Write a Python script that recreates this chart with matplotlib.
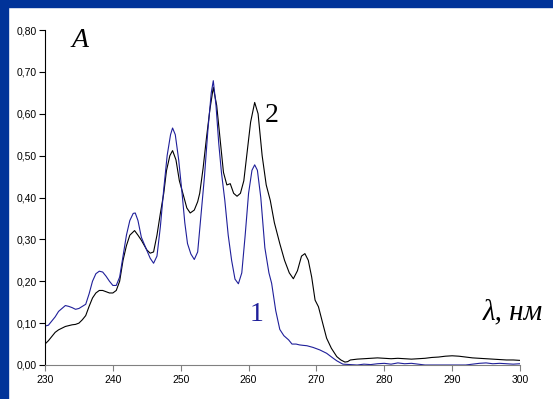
# Absorption spectra, curves 1 and 2
import matplotlib
matplotlib.use("Agg")
import matplotlib.pyplot as plt
from matplotlib.ticker import FuncFormatter, MultipleLocator
from matplotlib.patches import Rectangle

# curve 1 (blue)
wl1 = [230, 230.5, 231, 231.5, 232, 232.5, 233, 233.5, 234, 234.5, 235, 235.5,
       236, 236.5, 237, 237.5, 238, 238.5, 239, 239.5, 240, 240.5, 241, 241.5,
       242, 242.5, 243, 243.3, 243.7, 244.2, 245, 245.5, 246, 246.5, 247, 247.5,
       248, 248.5, 248.8, 249.2, 249.7, 250.2, 250.6, 251, 251.5, 252, 252.5,
       253, 253.5, 254, 254.5, 254.8, 255.2, 255.6, 256, 256.5, 257, 257.5,
       258, 258.5, 259, 259.5, 260, 260.5, 260.9, 261.3, 261.8, 262.4, 263,
       263.4, 264, 264.6, 265.2, 265.9, 266.4, 267, 267.5, 268, 268.6, 269.5,
       270.5, 271.5, 272.4, 273, 273.9, 275, 276, 277, 278, 279, 280, 281, 282,
       283, 284, 285, 286, 288, 290, 292, 293, 294, 295, 296, 297, 298, 299, 300]
abs1 = [0.093, 0.095, 0.105, 0.115, 0.128, 0.135, 0.142, 0.140, 0.137, 0.133,
        0.135, 0.140, 0.145, 0.170, 0.200, 0.218, 0.224, 0.222, 0.212, 0.200,
        0.190, 0.190, 0.210, 0.260, 0.310, 0.345, 0.362, 0.363, 0.345, 0.305,
        0.274, 0.255, 0.243, 0.260, 0.330, 0.420, 0.500, 0.550, 0.566, 0.550,
        0.490, 0.410, 0.340, 0.290, 0.265, 0.252, 0.270, 0.360, 0.450, 0.560,
        0.650, 0.679, 0.620, 0.530, 0.460, 0.393, 0.310, 0.250, 0.205, 0.194,
        0.220, 0.310, 0.410, 0.465, 0.478, 0.465, 0.400, 0.280, 0.220, 0.195,
        0.130, 0.085, 0.070, 0.060, 0.050, 0.050, 0.048, 0.047, 0.046, 0.042,
        0.036, 0.028, 0.017, 0.010, 0.002, 0.001, 0.000, 0.002, 0.001, 0.003,
        0.004, 0.002, 0.005, 0.003, 0.004, 0.002, 0.000, 0.000, 0.000, 0.000,
        0.002, 0.004, 0.005, 0.003, 0.004, 0.003, 0.002, 0.003]

# curve 2 (black)
wl2 = [230, 230.5, 231, 231.5, 232, 232.5, 233, 233.5, 234, 234.5, 235, 235.5,
       236, 236.5, 237, 237.5, 238, 238.5, 239, 239.5, 240, 240.5, 241, 241.5,
       242, 242.5, 243.2, 243.7, 244.2, 245, 245.5, 246, 246.5, 247, 247.5,
       247.9, 248.4, 248.8, 249.3, 249.8, 250.4, 250.9, 251.4, 252, 252.5,
       252.8, 253.3, 253.8, 254.3, 254.8, 255.3, 255.8, 256.3, 256.8, 257.3,
       257.8, 258.3, 258.8, 259.3, 259.8, 260.3, 260.9, 261.4, 262, 262.6,
       263.2, 263.8, 264.6, 265.3, 266, 266.6, 267.2, 267.8, 268.3, 268.8,
       269.3, 269.8, 270.3, 271, 271.5, 272.2, 273, 273.6, 274.2, 274.6, 275,
       276, 277, 278, 279, 280, 281, 282, 283, 284, 285, 286, 287, 288, 289,
       290, 291, 292, 293, 294, 295, 296, 297, 298, 299, 300]
abs2 = [0.050, 0.058, 0.068, 0.078, 0.084, 0.088, 0.092, 0.094, 0.096, 0.097,
        0.100, 0.108, 0.118, 0.140, 0.160, 0.172, 0.178, 0.178, 0.175, 0.172,
        0.172, 0.178, 0.200, 0.250, 0.285, 0.310, 0.321, 0.310, 0.298, 0.275,
        0.267, 0.270, 0.310, 0.362, 0.410, 0.464, 0.500, 0.512, 0.490, 0.440,
        0.405, 0.375, 0.363, 0.370, 0.390, 0.410, 0.470, 0.543, 0.610, 0.663,
        0.620, 0.540, 0.460, 0.430, 0.433, 0.410, 0.403, 0.410, 0.440, 0.510,
        0.580, 0.627, 0.600, 0.500, 0.430, 0.393, 0.340, 0.290, 0.250, 0.220,
        0.206, 0.225, 0.260, 0.266, 0.250, 0.210, 0.155, 0.139, 0.095, 0.064,
        0.040, 0.020, 0.012, 0.007, 0.008, 0.012, 0.014, 0.015, 0.016, 0.017,
        0.016, 0.015, 0.016, 0.015, 0.014, 0.015, 0.016, 0.018, 0.019, 0.021,
        0.022, 0.021, 0.019, 0.017, 0.016, 0.015, 0.014, 0.013, 0.012, 0.012,
        0.011]

fig = plt.figure(figsize=(5.53, 3.99), dpi=100, facecolor="white")

# dark blue frame on the left and top
fig.patches.append(Rectangle((0, 0), 8 / 553, 1, transform=fig.transFigure,
                             color="#003399", zorder=0))
fig.patches.append(Rectangle((0, 1 - 7 / 399), 1, 7 / 399, transform=fig.transFigure,
                             color="#003399", zorder=0))

ax = fig.add_axes([45 / 553, 1 - 365 / 399, 475 / 553, 335 / 399])
ax.plot(wl2, abs2, color="black", lw=0.8)
ax.plot(wl1, abs1, color="#1f1f9a", lw=0.8)

ax.set_xlim(230, 300)
ax.set_ylim(0, 0.8)
ax.xaxis.set_major_locator(MultipleLocator(10))
ax.yaxis.set_major_locator(MultipleLocator(0.1))
ax.yaxis.set_major_formatter(FuncFormatter(lambda v, p: f"{v:.2f}".replace(".", ",")))

for s in ["top", "right"]:
    ax.spines[s].set_visible(False)
ax.spines["left"].set_color("black")
ax.spines["bottom"].set_color("#808080")
ax.tick_params(axis="y", direction="out", length=4, width=0.8, labelsize=7.5, pad=2)
ax.tick_params(axis="x", direction="out", length=4, width=0.8, color="#808080",
               labelsize=7.5, pad=3)
for lab in ax.get_xticklabels() + ax.get_yticklabels():
    lab.set_family("Liberation Sans")

serif = "Liberation Serif"
ax.text(235.2, 0.76, "A", family=serif, style="italic", fontsize=20, ha="center", va="baseline")
ax.text(262.4, 0.58, "2", family=serif, fontsize=20, ha="left", va="baseline")
ax.text(261.2, 0.105, "1", family=serif, fontsize=20, color="#1f1f9a", ha="center", va="baseline")
ax.text(303.4, 0.11, "λ, нм", family=serif, style="italic", fontsize=21,
        ha="right", va="baseline", clip_on=False)

fig.savefig("out.png", dpi=100, facecolor="white")
